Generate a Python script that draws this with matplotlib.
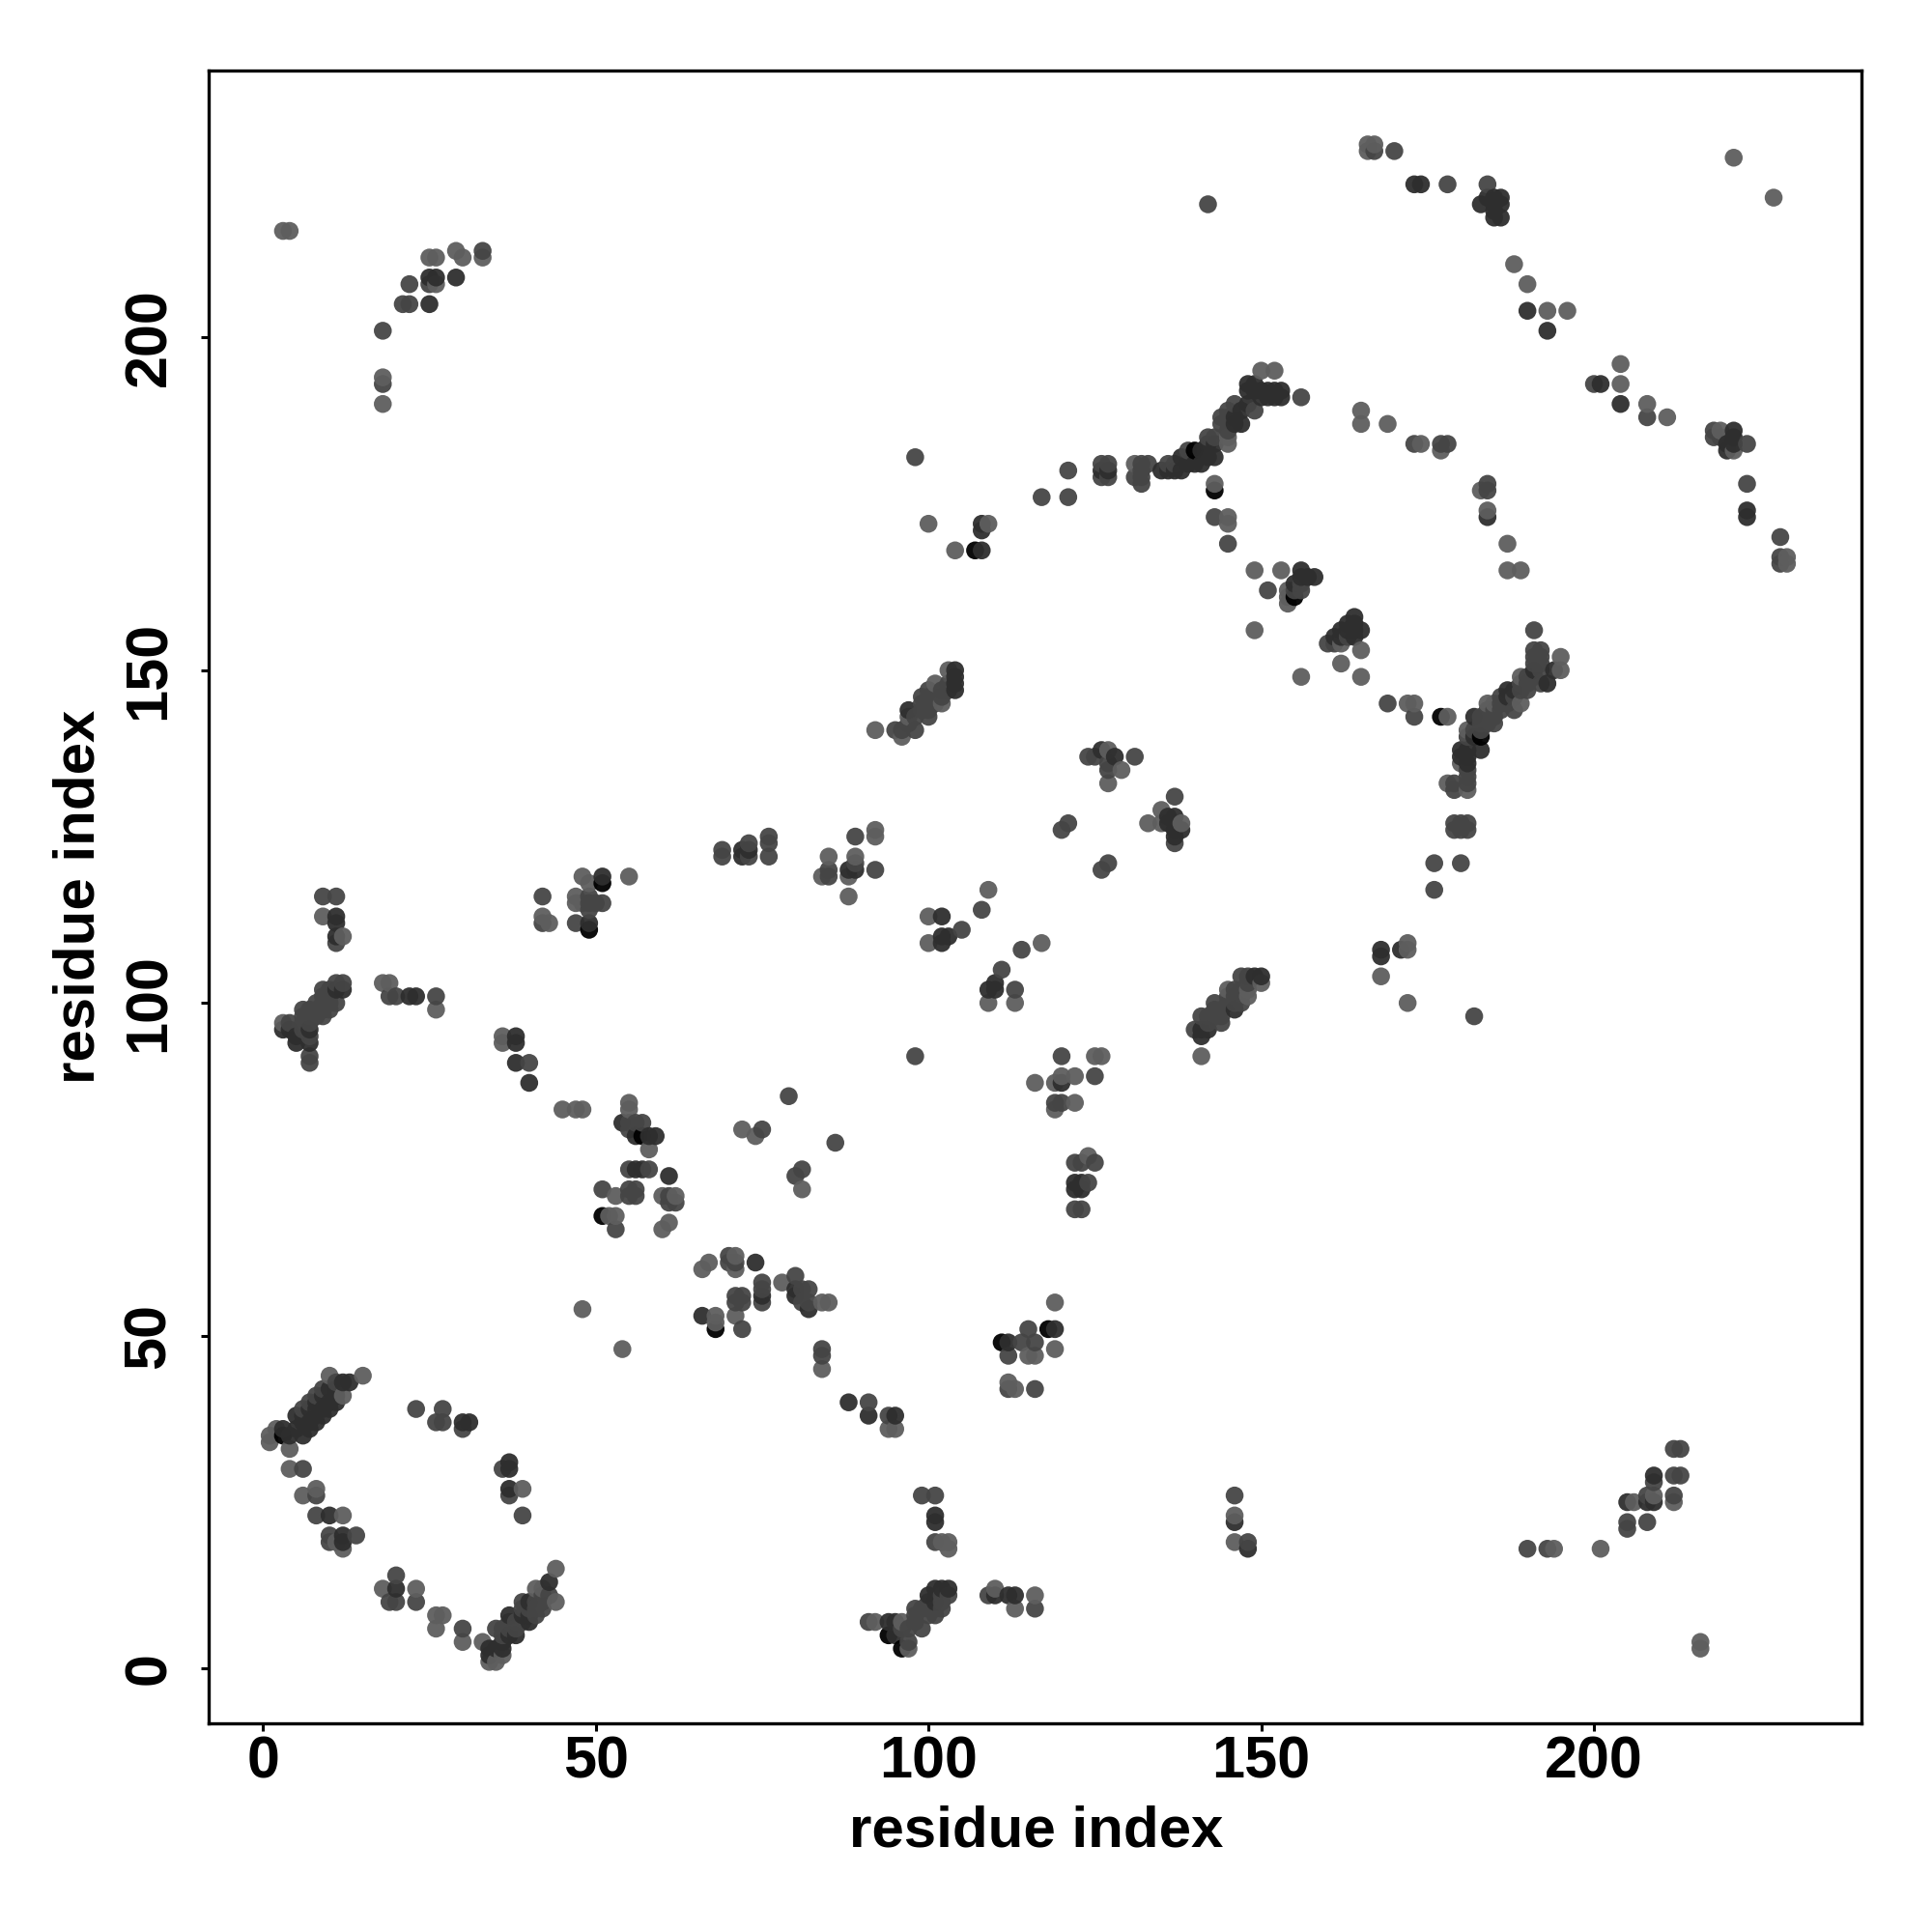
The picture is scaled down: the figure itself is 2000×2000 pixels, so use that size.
import matplotlib
matplotlib.use("Agg")
import matplotlib.pyplot as plt

# contacts (residue i, residue j), grouped by how strongly they print
light = [(48,54),(54,48),(15,44),(10,44),(1,35),(1,34),(2,36),(4,33),(4,30),(8,27),(6,26),(12,23),(11,19),(12,18),
(18,12),(23,12),(26,8),(27,8),(26,6),(30,4),(33,4),(34,1),(35,1),(36,2),(41,12),(42,12),(44,15),(44,10),(39,27),
(9,113),(12,110),(3,97),(18,103),(19,103),(26,99),(36,95),(36,94),(45,84),(47,84),(48,84),(42,113),(43,112),(47,116),(47,115),
(48,119),(49,118),(55,119),(48,115),(55,85),(55,84),(58,78),(53,71),(60,71),(62,71),(52,68),(53,68),(61,67),(60,66),
(66,60),(67,61),(71,62),(71,60),(71,53),(68,53),(68,52),(78,58),(84,55),(85,55),(84,45),(94,36),(95,36),(72,81),(74,80),(81,72),
(119,55),(119,48),(115,47),(116,47),(112,43),(113,42),(102,19),(103,19),(103,18),(146,23),(146,19),(92,7),(97,3),(96,7),
(110,12),(113,9),(116,11),(117,109),(109,100),(113,100),(109,117),(100,113),(100,109),(92,141),(96,140),(101,148),(102,145),(103,150),
(127,138),(129,135),(127,133),(135,129),(133,127),(135,127),(138,127),(92,126),(92,125),(89,122),(88,116),(85,122),(84,119),(88,119),
(125,92),(126,92),(116,88),(119,88),(120,89),(122,89),(122,85),(119,84),(124,77),(141,92),(145,102),(148,101),(150,103),(168,104),(172,109),(172,108),(172,100),
(195,152),(195,150),(189,149),(189,145),(184,145),(185,145),(181,141),(180,136),(181,132),(178,133),(165,153),(165,149),(172,145),(173,145),(178,143),
(184,174),(187,169),(187,165),(189,165),(229,167),(229,166),(150,195),(152,195),(145,185),(145,184),(131,181),(143,178),(145,173),(145,172),
(149,165),(153,165),(154,162),(154,161),(154,160),(149,156),(162,154),(162,151),(156,149),(165,189),(165,187),(169,187),(174,184),(177,183),(183,177),
(166,229),(167,229),(166,228),(188,211),(190,208),(193,204),(196,204),(204,196),(204,193),(208,190),(211,188),(219,186),(221,183),(221,227),(227,221),
(3,216),(4,216),(18,194),(18,190),(25,212),(26,212),(26,208),(29,213),(30,212),(33,212),(100,172),(104,168),(109,172),(194,18),
(201,18),(206,25),(209,26),(212,25),(216,4),(216,3),(12,41),(148,102),(97,143)]

mid = [(23,39),(27,39),(26,37),(27,37),(30,36),(36,30),(37,26),(39,23),(6,30),(8,26),(8,23),(10,20),(10,19),(14,20),
(19,10),(20,14),(20,10),(23,10),(30,6),(35,6),(38,7),(39,10),(42,9),(43,11),(9,116),(11,116),(11,109),(12,103),(11,103),(10,102),(9,102),(9,101),
(10,101),(11,100),(6,99),(7,99),(8,99),(9,98),(4,97),(6,97),(7,95),(7,92),(7,91),(19,101),(20,101),(26,101),(40,91),(42,116),(42,112),(47,112),(49,116),(49,115),(49,114),(50,115),(51,115),
(55,82),(56,82),(57,82),(55,81),(55,75),(58,75),(51,72),(55,72),(56,72),(55,71),(56,71),(61,71),(61,70),(62,70),(53,66),
(70,62),(70,61),(71,61),(71,56),(72,56),(71,55),(72,55),(72,51),(75,58),(75,57),(75,55),(80,59),(81,57),(82,57),(81,55),(82,55),
(84,48),(84,47),(91,40),(94,38),(75,81),(79,86),(86,79),(80,74),(81,75),(98,92),(99,26),(101,26),(101,19),(115,51),(114,49),(116,49),(112,47),(112,42),(116,42),
(146,26),(148,19),(91,7),(97,4),(98,8),(99,6),(98,7),(99,9),(100,8),(101,8),(102,9),(96,6),(97,6),(103,11),(109,11),(116,9),
(114,108),(111,105),(113,102),(108,114),(105,111),(95,141),(96,141),(97,142),(98,141),(98,143),(99,146),(100,144),(100,143),(100,147),(102,147),(103,148),
(124,137),(125,137),(127,136),(127,135),(131,137),(137,131),(137,124),(121,127),(120,126),(127,121),(126,120),(89,125),(92,120),(89,121),(85,120),(85,119),(69,123),(69,122),(73,124),(73,122),(76,122),(76,125),(76,124),
(120,92),(125,89),(119,85),(120,85),(122,76),(123,76),(125,76),(124,73),(122,69),(123,69),(140,96),(141,98),(143,100),(144,97),(143,98),(144,98),(146,101),(147,104),(147,100),(148,104),(147,102),(148,103),
(191,156),(191,153),(192,153),(191,152),(192,152),(191,151),(192,151),(192,150),(190,149),(192,148),(189,148),(190,147),(188,146),(188,144),(186,145),(185,142),(184,144),(183,143),(184,143),(185,143),(182,141),(183,141),(181,140),
(179,133),(179,132),(181,135),(181,134),(181,133),(179,127),(180,127),(181,127),(179,126),(180,126),(181,126),(176,121),(180,121),(176,117),(169,145),(173,143),
(228,170),(228,167),(228,166),(156,191),(149,189),(146,190),(145,189),(145,188),(144,188),(144,187),(145,186),(143,185),(142,185),(139,183),(136,181),(137,181),(133,181),(131,179),(132,179),(132,178),(132,181),(132,180),
(126,181),(127,181),(126,179),(127,179),(121,180),(121,176),(143,173),(145,169),(151,162),(155,162),(156,162),(156,163),(160,154),(161,154),(163,155),(177,184),
(173,184),(178,184),(184,178),(184,177),(170,228),(167,228),(178,223),(184,223),(200,193),(208,188),(218,186),(218,185),(219,185),(223,184),(223,178),
(18,201),(18,193),(21,205),(22,205),(22,208),(25,208),(33,213),(142,220),(98,182),(117,176),(182,98),(190,18),(193,18),(205,22),(205,21),(208,22),(208,26),(209,28),(212,33),(213,33),(213,29),(212,29),(212,26),
(7,40),(9,42),(11,43),(6,39),(8,41),(99,144),(99,145),(101,146),(101,145),(102,146),(103,147),(100,146),
(143,99),(144,99),(145,100),(145,101),(146,102),(146,100),(147,101),(142,97),(142,98),(100,9),(100,10),(101,9),(102,10),(102,11),(98,9),
(8,98),(8,100),(9,100),(9,99),(10,100),(10,99),(7,98),(6,98),(7,97),(6,96),
(38,6),(39,7),(39,9),(40,9),(41,9),(41,10),(41,8),(42,10),(42,11),(37,6),(37,7),(36,5),(36,6),
(186,144),(186,146),(187,145),(185,144),(183,142),(184,142),(189,147),(190,148),(191,149)]

dark = [(3,36),(4,35),(5,38),(5,36),(6,35),(6,37),(6,38),(7,37),(7,39),(7,36),(8,37),(8,39),(8,40),(9,39),(9,41),(9,38),(10,39),(10,40),(10,42),(11,40),(11,42),(11,41),(12,43),(13,43),
(30,37),(31,37),(37,31),(37,30),(37,27),(10,23),(12,20),(12,19),(20,12),(34,3),(34,2),(35,3),(36,3),(36,4),(37,5),(37,8),(38,5),(39,8),(40,7),(40,8),(40,10),(43,13),
(11,113),(11,112),(11,110),(12,102),(11,102),(3,96),(4,96),(5,94),(5,95),(7,96),(7,94),(22,101),(23,101),(38,95),(38,94),(38,91),(40,88),
(51,119),(49,112),(54,82),(56,80),(58,80),(59,80),(56,75),(57,75),(61,74),
(74,61),(66,53),(75,56),(80,57),(80,56),(82,54),(88,40),(91,38),(95,38),
(119,51),(112,49),(101,23),(101,22),(146,22),(148,18),(94,7),(95,7),(95,5),(100,11),(101,12),(101,10),(102,12),(103,12),(110,11),(112,11),(113,11),
(110,103),(109,102),(110,102),(102,113),(102,110),(102,109),(103,110),(97,144),(104,150),(104,149),(104,148),(104,147),
(126,138),(128,137),(136,128),(137,128),(136,127),(137,126),(138,126),(137,125),(89,120),(88,120),(72,123),(72,122),(73,123),
(120,88),(122,73),(123,73),(122,72),(123,72),(141,95),(141,96),(142,96),(146,99),(149,104),(150,104),(168,108),(168,107),(171,108),
(194,150),(191,150),(193,148),(187,147),(188,147),(187,146),(182,143),(182,140),(183,138),(180,138),(181,138),(180,137),(181,137),(181,136),
(184,173),(223,174),(223,173),(165,156),(164,158),(148,193),(149,193),(148,192),(149,192),(150,192),(151,192),(152,192),(153,192),(150,191),(151,191),(152,191),(153,191),(148,190),(146,188),(147,189),(147,187),(146,187),(143,184),(143,182),(142,184),(142,182),
(141,183),(140,181),(141,181),(138,182),(139,181),(138,180),(137,180),(136,180),(135,180),(126,180),(127,180),
(156,165),(158,164),(157,164),(156,164),(155,163),(163,157),(162,156),(163,156),(164,157),(164,156),(161,155),(162,155),(164,155),
(173,223),(174,223),(184,221),(183,220),(185,221),(186,221),(185,218),(186,218),(186,220),(185,220),(185,219),
(190,204),(193,201),(201,193),(204,190),(221,186),(221,185),(220,183),(220,184),(221,184),
(25,205),(25,209),(26,209),(29,209),(108,168),(108,171),(108,172),(205,25),(208,25),(209,25),(209,29)]

black = [(3,35),(51,118),(49,111),(57,80),(51,68),(68,51),(94,5),(96,3),(111,49),(118,51),(107,168),
(177,143),(143,177),(183,140),(155,161),(140,183)]

grays = {"light": 0.37, "mid": 0.27, "dark": 0.18, "black": 0.0}
x_ticks = [0, 50, 100, 150, 200]
y_ticks = [0, 50, 100, 150, 200]
x_title = "residue index"
y_title = "residue index"

plt.rcParams["font.family"] = ["Liberation Sans", "DejaVu Sans"]
fig = plt.figure(figsize=(20, 20), dpi=100)
ax = fig.add_axes([216/2000, 1 - 1784/2000, 1711/2000, 1711/2000])

level = {}
for name, pts in (("light", light), ("mid", mid), ("dark", dark), ("black", black)):
    for p in pts:
        level[p] = grays[name]
order = sorted(level)  # later residues print over earlier ones
ax.scatter([p[0] for p in order], [p[1] for p in order], s=178,
           c=[str(level[p]) for p in order], alpha=0.95, linewidths=0, zorder=2)

ax.set_xlim(-8.17, 240.2)
ax.set_ylim(-8.23, 240.1)
ax.set_xticks(x_ticks)
ax.set_yticks(y_ticks)
ax.tick_params(axis="x", length=6, width=2.2, labelsize=44, pad=3)
ax.tick_params(axis="y", length=6, width=2.2, labelsize=44, pad=17)
for lab in ax.get_xticklabels() + ax.get_yticklabels():
    lab.set_fontweight("bold")
for lab in ax.get_yticklabels():
    lab.set_rotation(90)
    lab.set_va("center")
for s in ax.spines.values():
    s.set_linewidth(2.4)
ax.set_xlabel(x_title, fontsize=43.2, fontweight="bold", va="baseline")
ax.set_ylabel(y_title, fontsize=43.2, fontweight="bold", va="baseline")
ax.xaxis.set_label_coords(1073/2000, 1 - 1912/2000, transform=fig.transFigure)
ax.yaxis.set_label_coords(98/2000, 1 - 928/2000, transform=fig.transFigure)
fig.savefig("out.png", dpi=100, facecolor="white")
